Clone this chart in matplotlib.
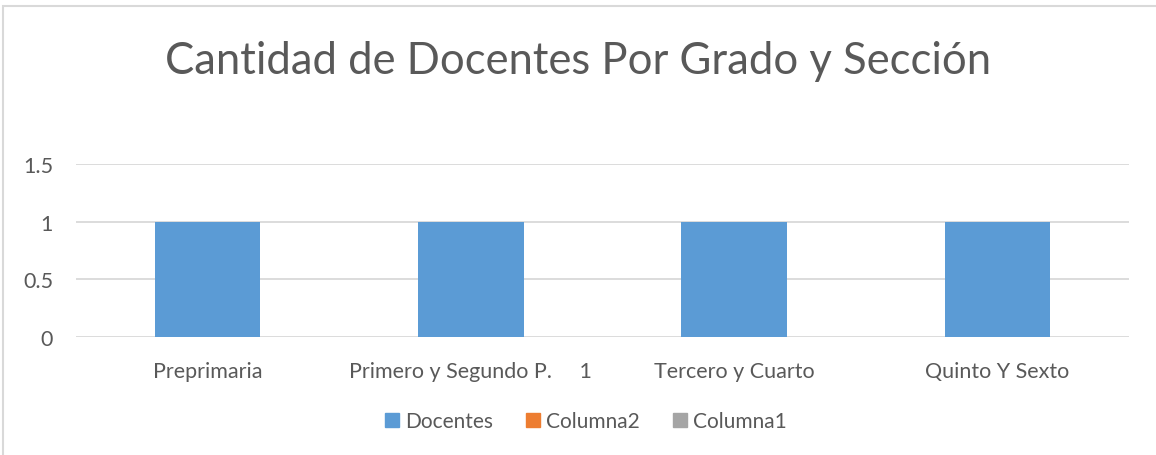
import matplotlib.pyplot as plt
from matplotlib.patches import Rectangle, Patch

categorias = ['Preprimaria', 'Primero y Segundo P.     1', 'Tercero y Cuarto', 'Quinto Y Sexto']
docentes = [1, 1, 1, 1]
columna2 = [0, 0, 0, 0]
columna1 = [0, 0, 0, 0]
y_ticks = [0, 0.5, 1, 1.5]

gris = '#595959'
plt.rcParams['font.family'] = ['Lato', 'DejaVu Sans']

fig = plt.figure(figsize=(11.56, 4.56), dpi=100)
ax = fig.add_axes([76 / 1156, 1 - 338 / 456, (1129 - 76) / 1156, (338 - 165) / 456])

x = range(len(categorias))
ax.bar(x, docentes, width=0.4, color='#5B9BD5', zorder=3)

ax.set_xlim(-0.5, len(categorias) - 0.5)
ax.set_ylim(0, 1.5)
ax.set_yticks(y_ticks)
ax.set_yticklabels(['0', '0.5', '1', '1.5'])
ax.set_xticks(list(x))
ax.set_xticklabels(categorias)
ax.tick_params(length=0, labelsize=15.5, colors=gris)
ax.tick_params(axis='x', pad=17)
ax.tick_params(axis='y', pad=16.5)
ax.grid(axis='y', color='#D9D9D9', linewidth=1.3, zorder=0)
for s in ax.spines.values():
    s.set_visible(False)

fig.text(0.5, 1 - 62 / 456, 'Cantidad de Docentes Por Grado y Sección',
         ha='center', va='center', fontsize=31.4, color=gris)

handles = [Patch(color='#5B9BD5', label='Docentes'),
           Patch(color='#ED7D31', label='Columna2'),
           Patch(color='#A5A5A5', label='Columna1')]
fig.legend(handles=handles, loc='center', bbox_to_anchor=(586 / 1156, 1 - 422 / 456),
           ncol=3, frameon=False, fontsize=15, labelcolor=gris,
           handlelength=0.65, handleheight=0.65, handletextpad=0.3, columnspacing=1.6)

fig.patches.append(Rectangle((3 / 1156, -0.1), 1.2, 1 - 7 / 456 + 0.1, transform=fig.transFigure,
                             fill=False, edgecolor='#D9D9D9', linewidth=1.5))

fig.savefig('out.png', dpi=100)
